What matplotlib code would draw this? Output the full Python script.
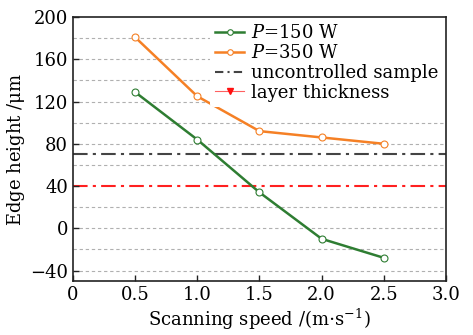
import matplotlib
matplotlib.use("Agg")
import matplotlib.pyplot as plt
from matplotlib.lines import Line2D

speed = [0.5, 1.0, 1.5, 2.0, 2.5]
p150 = [129, 84, 34, -10, -28]
p350 = [181, 125, 92, 86, 80]
uncontrolled = 70
layer = 40
xticks = [0, 0.5, 1.0, 1.5, 2.0, 2.5, 3.0]
xticklabels = ["0", "0.5", "1.0", "1.5", "2.0", "2.5", "3.0"]
yticks = [-40, 0, 40, 80, 120, 160, 200]
ygrid = [-40, -20, 0, 20, 60, 80, 100, 120, 140, 160, 180]

plt.rcParams['font.family'] = ['DejaVu Serif']
plt.rcParams['mathtext.fontset'] = 'dejavuserif'

fig = plt.figure(figsize=(4.73, 3.35), dpi=100)
ax = fig.add_axes([0.154, 0.161, 0.789, 0.788])

for g in ygrid:
    ax.axhline(g, color='#b0b0b0', lw=0.8, ls=(0, (3, 2.5)), zorder=0)

ax.axhline(uncontrolled, color='#444444', lw=1.5, ls=(0, (7, 2.5, 1.5, 2.5)), zorder=1)
ax.axhline(layer, color='#ff2020', lw=1.5, ls=(0, (7, 2.5, 1.5, 2.5)), zorder=1)

ax.plot(speed, p150, color='#2e7d32', lw=1.8, marker='o', ms=5, mfc='white', mec='#2e7d32', mew=0.8, zorder=3)
ax.plot(speed, p350, color='#f58025', lw=1.8, marker='o', ms=5, mfc='white', mec='#f58025', mew=0.8, zorder=3)

ax.set_xlim(0, 3.0)
ax.set_ylim(-50, 200)
ax.set_xticks(xticks)
ax.set_xticklabels(xticklabels)
ax.set_yticks(yticks)
ax.tick_params(direction='in', labelsize=13, length=4, width=1, colors='#222222')
ax.tick_params(axis='both', labelcolor='black')
for s in ax.spines.values():
    s.set_linewidth(1.2)
    s.set_color('#222222')

ax.set_xlabel(r"Scanning speed /(m$\cdot$s$^{-1}$)", fontsize=13, labelpad=2)
ax.set_ylabel(r"Edge height /$\mathrm{\mu}$m", fontsize=13, labelpad=2)

handles = [
    Line2D([], [], color='#2e7d32', lw=1.8, marker='o', ms=4, mfc='white', mec='#2e7d32', mew=0.8),
    Line2D([], [], color='#f58025', lw=1.8, marker='o', ms=4, mfc='white', mec='#f58025', mew=0.8),
    Line2D([], [], color='#444444', lw=1.5, ls=(0, (4, 2, 1, 2))),
    Line2D([], [], color='#ff6060', lw=0.8, marker='v', ms=5, mfc='#ff1010', mec='#ff1010'),
]
labels = [r"$P$=150 W", r"$P$=350 W", "uncontrolled sample", "layer thickness"]
leg = ax.legend(handles, labels, loc='upper right', fontsize=13, frameon=True,
                handlelength=1.6, handletextpad=0.4, labelspacing=0.1,
                borderaxespad=0.1, borderpad=0.3)
leg.get_frame().set_edgecolor('none')
leg.get_frame().set_facecolor('white')
leg.get_frame().set_alpha(1)

fig.savefig("out.png", dpi=100)
